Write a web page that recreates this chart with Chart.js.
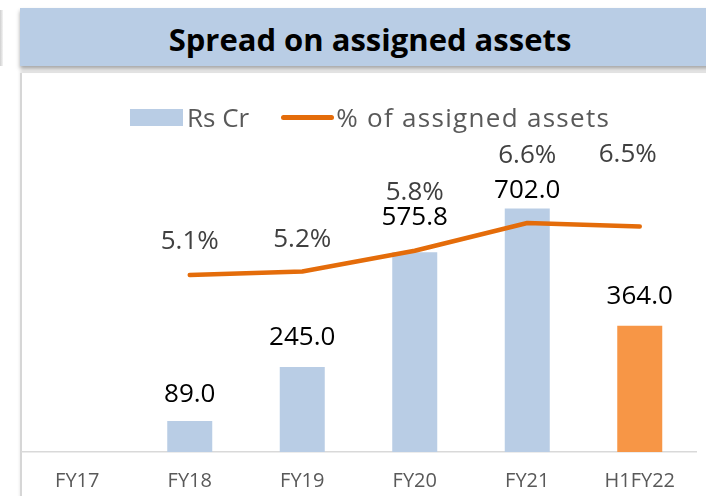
<!DOCTYPE html>
<html lang="en">
<head>
  <meta charset="UTF-8">
  <title>Spread on assigned assets</title>
  <script src="https://cdn.jsdelivr.net/npm/chart.js"></script>
  <style>
    body {
      margin: 0;
      width: 706px;
      height: 496px;
      background: #ffffff;
      overflow: hidden;
      font-family: "Open Sans", sans-serif;
      position: relative;
    }
    .leftShadow {
      position: absolute; left: 0; top: 10px; width: 3px; height: 56px;
      background: linear-gradient(to right, #cfcfcf, #f4f4f4);
    }
    .titleBox {
      position: absolute; left: 20px; top: 8px; width: 700px; height: 58px;
      background: #b9cde5;
      box-shadow: 0 3px 4px rgba(0,0,0,0.35);
      font-weight: bold; font-size: 31px; color: #000;
      line-height: 62px; text-align: center;
    }
    .titleBox span { position: relative; left: 0px; }
    .panel {
      position: absolute; left: 20px; top: 73px; width: 700px; height: 430px;
      border-left: 2px solid #d6d6d6;
      box-shadow: 0 -2px 3px rgba(0,0,0,0.12);
    }
    .legend {
      position: absolute; top: 102px; left: 130px; height: 30px;
      display: flex; align-items: center; font-size: 26px; color: #595959;
    }
    .legend .box { width: 53px; height: 17px; margin-right: 4px; }
    .legend .line { width: 53px; height: 5px; border-radius: 3px; margin-left: 32px; margin-right: 2px; }
    .legend .wide { letter-spacing: 1.3px; }
    #wrap { position: absolute; left: 21px; top: 75px; width: 685px; height: 427px; }
  </style>
</head>
<body>
  <div class="leftShadow"></div>
  <div class="titleBox"><span>Spread on assigned assets</span></div>
  <div class="panel"></div>
  <div id="wrap"><canvas id="chart"></canvas></div>
  <div class="legend" id="legend"></div>

  <script>
    const categories = ['FY17', 'FY18', 'FY19', 'FY20', 'FY21', 'H1FY22'];
    const rsCr = [null, 89.0, 245.0, 575.8, 702.0, 364.0];
    const pctAssigned = [null, 5.1, 5.2, 5.8, 6.6, 6.5];
    const seriesNames = ['Rs Cr', '% of assigned assets'];

    const barBlue = '#b9cde5';
    const barOrange = '#f79646';
    const lineOrange = '#e46c0a';
    const barColors = categories.map((c, i) => i === categories.length - 1 ? barOrange : barBlue);

    // how far above each mark its label sits (px), as in the original slide
    const barLabelLift = [0, 27, 29, 35, 18, 29];
    const lineLabelLift = [0, 33, 32, 58, 67, 72];
    const lineLabelShift = [0, 0, 0, 0, 0, -12];

    document.getElementById('legend').innerHTML =
      `<div class="box" style="background:${barBlue}"></div><span>${seriesNames[0]}</span>` +
      `<div class="line" style="background:${lineOrange}"></div><span class="wide">${seriesNames[1]}</span>`;

    const valueLabels = {
      id: 'valueLabels',
      afterDatasetsDraw(chart) {
        const ctx = chart.ctx;
        ctx.save();
        ctx.font = '26px "Open Sans"';
        ctx.textAlign = 'center';
        ctx.textBaseline = 'middle';
        chart.getDatasetMeta(1).data.forEach((el, i) => {
          if (rsCr[i] == null) return;
          ctx.fillStyle = '#000000';
          ctx.fillText(rsCr[i].toFixed(1), el.x, el.y - barLabelLift[i]);
        });
        chart.getDatasetMeta(0).data.forEach((el, i) => {
          if (pctAssigned[i] == null) return;
          ctx.fillStyle = '#404040';
          ctx.fillText(pctAssigned[i].toFixed(1) + '%', el.x + lineLabelShift[i], el.y - lineLabelLift[i]);
        });
        ctx.restore();
      }
    };

    new Chart(document.getElementById('chart'), {
      data: {
        labels: categories,
        datasets: [
          {
            type: 'line', label: seriesNames[1], data: pctAssigned, yAxisID: 'y2',
            borderColor: lineOrange, borderWidth: 4.5, pointRadius: 0,
            borderCapStyle: 'round', borderJoinStyle: 'round', tension: 0, order: 0
          },
          {
            type: 'bar', label: seriesNames[0], data: rsCr, yAxisID: 'y',
            backgroundColor: barColors, barPercentage: 0.4, categoryPercentage: 1, order: 1
          }
        ]
      },
      options: {
        responsive: true,
        maintainAspectRatio: false,
        animation: false,
        layout: { padding: { top: 30, left: 0, right: 10, bottom: 0 } },
        plugins: { legend: { display: false }, tooltip: { enabled: false } },
        scales: {
          x: {
            grid: { display: false },
            border: { color: '#d9d9d9', width: 1.5 },
            ticks: { color: '#595959', font: { family: 'Open Sans', size: 20 }, padding: 9 }
          },
          y: { display: false, min: 0, max: 1000 },
          y2: { display: false, min: 0, max: 10 }
        }
      },
      plugins: [valueLabels]
    });
  </script>
</body>
</html>
